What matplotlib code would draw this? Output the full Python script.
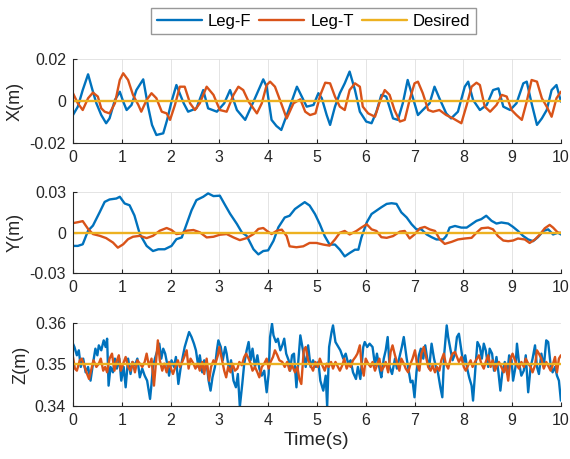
import matplotlib
matplotlib.use('Agg')
import matplotlib.pyplot as plt
from matplotlib.ticker import FuncFormatter

plt.rcParams['font.family'] = ['Liberation Sans', 'DejaVu Sans']
plt.rcParams['axes.unicode_minus'] = False

C_F = '#0072BD'
C_T = '#D95319'
C_D = '#EDB120'

# ---- X (values in mm) ----
xf_t = [0, 0.1, 0.2, 0.31, 0.4, 0.48, 0.58, 0.68, 0.75, 0.86, 0.96, 1.03, 1.1, 1.2, 1.3,
        1.44, 1.54, 1.62, 1.71, 1.85, 1.93, 2.02, 2.12, 2.2, 2.27, 2.36, 2.53, 2.67, 2.77,
        2.95, 3.1, 3.22, 3.36, 3.53, 3.7, 3.9, 3.97, 4.07, 4.17, 4.27, 4.42, 4.59, 4.69,
        4.79, 4.93, 5.03, 5.1, 5.2, 5.27, 5.37, 5.47, 5.57, 5.67, 5.78, 5.88, 6.01, 6.12,
        6.22, 6.32, 6.42, 6.56, 6.66, 6.76, 6.86, 6.97, 7.07, 7.17, 7.31, 7.41, 7.51, 7.65,
        7.75, 7.89, 8.03, 8.1, 8.2, 8.34, 8.48, 8.61, 8.72, 8.82, 8.96, 9.09, 9.23, 9.3,
        9.4, 9.51, 9.61, 9.71, 9.81, 9.91, 10.0]
xf_mm = [-6.7, -2.7, 5.2, 12.7, 5.2, -1.1, -6.7, -10.6, -8.3, 0.5, 4.4, -0.3, -4.3, -1.9, 5.2,
         10.3, -2.7, -11.4, -16.2, -15.4, -9.0, -0.3, 7.6, 2.9, -1.1, -5.1, -3.5, 5.2, -3.5,
         -5.1, -1.1, 5.2, -4.3, -9.0, -0.3, 10.3, 6.8, -9.0, -11.9, -13.8, -4.3, 6.8, 2.1,
         -2.7, -1.9, 3.7, 1.3, -6.7, -11.4, -2.7, 3.7, 8.4, 14.0, 5.2, -5.1, -9.8, -10.6,
         -5.1, 2.9, 2.1, -8.3, -9.0, -1.1, 10.0, 1.3, -6.7, -4.3, -1.1, 6.8, 1.3, -5.9,
         -8.3, -5.1, 6.8, 9.2, 0.5, -4.3, -1.9, 5.2, 6.0, -2.7, -4.3, -1.1, 8.4, 9.2,
         -1.1, -11.4, -8.3, -4.3, 5.2, 7.6, -0.3]

xt_t = [0, 0.1, 0.2, 0.31, 0.41, 0.51, 0.58, 0.65, 0.75, 0.86, 0.96, 1.03, 1.13, 1.23, 1.34,
        1.4, 1.51, 1.61, 1.71, 1.82, 1.92, 1.99, 2.09, 2.19, 2.29, 2.4, 2.5, 2.6, 2.74,
        2.88, 3.01, 3.15, 3.29, 3.39, 3.49, 3.6, 3.77, 3.87, 3.97, 4.04, 4.14, 4.28, 4.38,
        4.52, 4.66, 4.76, 4.86, 4.97, 5.07, 5.17, 5.27, 5.37, 5.47, 5.57, 5.67, 5.78, 5.88,
        5.94, 6.05, 6.19, 6.29, 6.39, 6.49, 6.59, 6.7, 6.8, 6.9, 7.0, 7.07, 7.17, 7.28,
        7.38, 7.51, 7.65, 7.79, 7.96, 8.07, 8.17, 8.27, 8.34, 8.44, 8.55, 8.68, 8.79, 8.89,
        8.99, 9.09, 9.2, 9.3, 9.4, 9.51, 9.61, 9.71, 9.81, 9.91, 10.0]
xt_mm = [3.7, -1.1, -4.3, 1.3, 4.0, 2.1, -3.5, -5.1, -5.9, -1.1, 10.0, 13.2, 10.0, 2.9, -1.9,
         -5.1, 0.5, 3.7, 1.3, -5.1, -5.9, -9.0, -1.9, 6.8, 6.8, -1.1, -4.3, -1.1, 6.8,
         2.9, -4.3, -5.1, 2.9, 6.8, 5.2, -0.3, -5.9, -1.1, 7.6, 9.2, 6.8, -1.9, -8.3,
         -1.1, 0.8, -5.1, -6.7, -5.9, 2.9, 8.7, 8.4, 2.1, -2.7, -4.3, 5.2, 8.4, 6.8,
         -2.7, -5.9, -7.5, -0.3, 5.2, 2.9, -4.3, -9.8, -9.0, 0.5, 8.4, 9.2, 3.7, -4.3,
         -5.1, -4.3, -6.7, -8.3, -10.6, -1.9, 6.8, 8.7, 7.6, -2.7, -5.1, -1.9, 2.9, 2.1,
         -4.3, -6.7, -9.0, -0.3, 10.0, 9.2, 1.3, -2.7, -7.5, 1.3, 4.4]

# ---- Y (values in mm) ----
yf_t = [0, 0.1, 0.2, 0.31, 0.41, 0.55, 0.65, 0.75, 0.89, 0.96, 1.06, 1.16, 1.26, 1.37, 1.51,
        1.64, 1.75, 1.88, 2.02, 2.12, 2.23, 2.33, 2.43, 2.53, 2.67, 2.77, 2.88, 3.01, 3.12,
        3.22, 3.36, 3.46, 3.56, 3.7, 3.8, 3.9, 4.0, 4.11, 4.21, 4.34, 4.44, 4.55, 4.65,
        4.75, 4.85, 4.96, 5.06, 5.16, 5.26, 5.37, 5.47, 5.57, 5.67, 5.78, 5.85, 5.91, 6.02,
        6.12, 6.22, 6.32, 6.43, 6.53, 6.63, 6.73, 6.84, 6.94, 7.04, 7.14, 7.25, 7.35, 7.45,
        7.59, 7.65, 7.72, 7.83, 7.96, 8.07, 8.17, 8.27, 8.37, 8.47, 8.58, 8.68, 8.78, 8.92,
        9.02, 9.12, 9.23, 9.33, 9.43, 9.53, 9.64, 9.74, 9.84, 9.94, 10.0]
yf_mm = [-9.8, -9.8, -8.6, 1.5, 5.3, 15.4, 22.9, 24.7, 25.4, 26.7, 21.7, 20.4, 12.8, -1.0, -9.8,
         -13.6, -12.3, -12.3, -9.8, -4.8, -3.5, 6.5, 16.6, 24.2, 26.7, 29.2, 27.2, 27.5, 20.4,
         14.1, 6.5, 0.3, -2.3, -12.3, -16.1, -13.6, -13.1, -6.0, 4.0, 11.3, 12.6, 17.6, 20.2,
         22.7, 20.2, 13.9, 6.3, -2.5, -8.8, -8.8, -12.6, -17.6, -15.1, -12.6, -12.6, -3.8, 7.6,
         13.9, 16.4, 18.9, 21.4, 21.9, 21.4, 15.1, 11.3, 6.3, 2.5, 2.5, -1.3, -3.3, -5.0,
         -5.0, -2.5, 3.8, 5.0, 3.8, 3.8, 6.3, 8.8, 10.1, 12.6, 8.8, 6.8, 7.6, 6.8,
         4.3, 1.3, -2.5, -5.0, -6.3, -3.3, 1.3, 2.5, -1.3, 0.0, -1.3]

yt_t = [0, 0.1, 0.2, 0.31, 0.41, 0.55, 0.68, 0.82, 0.92, 1.03, 1.13, 1.23, 1.37, 1.51, 1.64,
        1.78, 1.92, 2.02, 2.12, 2.23, 2.33, 2.47, 2.6, 2.74, 2.88, 3.01, 3.15, 3.29, 3.42,
        3.56, 3.7, 3.8, 3.9, 3.97, 4.07, 4.18, 4.28, 4.38, 4.44, 4.58, 4.72, 4.85, 4.99,
        5.13, 5.26, 5.37, 5.47, 5.57, 5.67, 5.81, 5.91, 6.02, 6.12, 6.22, 6.32, 6.43, 6.56,
        6.7, 6.8, 6.9, 7.0, 7.11, 7.21, 7.31, 7.42, 7.52, 7.62, 7.76, 7.89, 8.03, 8.17,
        8.27, 8.37, 8.51, 8.61, 8.71, 8.82, 8.92, 9.02, 9.12, 9.26, 9.36, 9.47, 9.57, 9.67,
        9.77, 9.84, 9.94, 10.0]
yt_mm = [7.1, 7.8, 8.6, 2.8, -1.0, -2.3, -4.0, -7.3, -11.1, -8.6, -4.8, -3.0, -2.3, -4.0, -2.3,
         1.5, 3.5, 2.0, -1.0, -0.5, 1.5, 2.0, 0.3, -3.5, -3.0, -1.5, -1.0, -3.5, -5.5,
         -4.0, -1.0, 2.8, 3.5, 1.5, -1.0, 1.5, 2.3, -2.5, -10.1, -10.8, -10.1, -7.6, -7.6,
         -8.8, -9.6, -5.0, 0.0, 1.3, -1.3, 1.3, 3.8, 6.3, 2.5, 1.3, -3.3, -3.8, -2.5,
         0.8, 1.3, -4.3, -1.3, 3.3, 4.3, 2.5, 1.3, -5.0, -8.3, -6.8, -5.0, -4.3, -3.8,
         0.0, 3.3, 3.8, 2.5, -2.5, -5.8, -6.3, -5.8, -4.3, -5.0, -7.6, -5.0, -1.3, 3.3,
         5.8, 3.8, 0.0, 0.0]

# ---- Z (values in m) ----
zf_t = [0.00, 0.03, 0.08, 0.12, 0.16, 0.21, 0.26, 0.31, 0.36, 0.41, 0.46, 0.50, 0.53, 0.58,
        0.63, 0.67, 0.70, 0.73, 0.77, 0.82, 0.86, 0.90, 0.95, 0.99, 1.04, 1.08, 1.13, 1.18,
        1.22, 1.27, 1.32, 1.37, 1.42, 1.47, 1.52, 1.58, 1.61, 1.64, 1.68, 1.73, 1.77, 1.81,
        1.85, 1.89, 1.93, 1.97, 2.02, 2.07, 2.11, 2.16, 2.21, 2.25, 2.29, 2.34, 2.38, 2.43,
        2.48, 2.52, 2.57, 2.60, 2.65, 2.69, 2.74, 2.78, 2.82, 2.86, 2.91, 2.95, 2.98, 3.03,
        3.07, 3.12, 3.15, 3.20, 3.24, 3.29, 3.34, 3.38, 3.42, 3.47, 3.51, 3.56, 3.60, 3.64,
        3.68, 3.73, 3.78, 3.82, 3.87, 3.92, 3.97, 4.01, 4.04, 4.08, 4.11, 4.16, 4.20, 4.25,
        4.29, 4.33, 4.37, 4.42, 4.45, 4.49, 4.53, 4.58, 4.62, 4.66, 4.72, 4.77, 4.82, 4.87,
        4.92, 4.98, 5.03, 5.07, 5.13, 5.18, 5.21, 5.25, 5.30, 5.33, 5.38, 5.44, 5.48, 5.54,
        5.59, 5.64, 5.69, 5.74, 5.80, 5.84, 5.89, 5.95, 5.98, 6.03, 6.08, 6.14, 6.19, 6.23,
        6.29, 6.32, 6.37, 6.41, 6.45, 6.49, 6.54, 6.60, 6.64, 6.70, 6.74, 6.78, 6.84, 6.88,
        6.92, 6.96, 7.00, 7.04, 7.09, 7.13, 7.18, 7.22, 7.26, 7.30, 7.35, 7.40, 7.44, 7.48,
        7.53, 7.57, 7.61, 7.66, 7.69, 7.74, 7.78, 7.83, 7.87, 7.91, 7.96, 8.00, 8.04, 8.08,
        8.12, 8.17, 8.20, 8.25, 8.29, 8.34, 8.38, 8.42, 8.46, 8.51, 8.54, 8.59, 8.63, 8.68,
        8.72, 8.76, 8.80, 8.85, 8.90, 8.94, 8.99, 9.02, 9.07, 9.10, 9.14, 9.19, 9.24, 9.28,
        9.33, 9.38, 9.42, 9.47, 9.51, 9.55, 9.60, 9.65, 9.70, 9.74, 9.79, 9.83, 9.88, 9.92,
        9.96, 10.00]
zf_m = [0.3550, 0.3542, 0.3522, 0.3534, 0.3494, 0.3514, 0.3481, 0.3494, 0.3461, 0.3502, 0.3538,
        0.3522, 0.3546, 0.3534, 0.3558, 0.3542, 0.3562, 0.3449, 0.3494, 0.3481, 0.3514, 0.3490,
        0.3514, 0.3461, 0.3494, 0.3445, 0.3514, 0.3477, 0.3506, 0.3498, 0.3514, 0.3469, 0.3490,
        0.3473, 0.3461, 0.3417, 0.3453, 0.3494, 0.3514, 0.3534, 0.3550, 0.3514, 0.3538, 0.3526,
        0.3502, 0.3473, 0.3510, 0.3494, 0.3518, 0.3453, 0.3494, 0.3518, 0.3542, 0.3562, 0.3578,
        0.3566, 0.3550, 0.3534, 0.3494, 0.3522, 0.3481, 0.3510, 0.3502, 0.3461, 0.3437, 0.3469,
        0.3494, 0.3534, 0.3558, 0.3542, 0.3510, 0.3542, 0.3526, 0.3485, 0.3510, 0.3461, 0.3445,
        0.3477, 0.3398, 0.3453, 0.3502, 0.3534, 0.3554, 0.3510, 0.3538, 0.3494, 0.3522, 0.3490,
        0.3473, 0.3485, 0.3433, 0.3477, 0.3566, 0.3598, 0.3570, 0.3554, 0.3562, 0.3534, 0.3546,
        0.3562, 0.3526, 0.3510, 0.3485, 0.3522, 0.3526, 0.3445, 0.3510, 0.3570, 0.3530, 0.3494,
        0.3546, 0.3494, 0.3510, 0.3494, 0.3506, 0.3461, 0.3437, 0.3473, 0.3398, 0.3542, 0.3578,
        0.3594, 0.3554, 0.3542, 0.3534, 0.3514, 0.3526, 0.3502, 0.3510, 0.3481, 0.3465, 0.3494,
        0.3465, 0.3542, 0.3554, 0.3542, 0.3550, 0.3542, 0.3498, 0.3526, 0.3485, 0.3469, 0.3514,
        0.3534, 0.3566, 0.3494, 0.3477, 0.3514, 0.3490, 0.3522, 0.3542, 0.3566, 0.3514, 0.3485,
        0.3457, 0.3461, 0.3421, 0.3481, 0.3522, 0.3538, 0.3514, 0.3546, 0.3514, 0.3490, 0.3550,
        0.3514, 0.3494, 0.3481, 0.3445, 0.3421, 0.3526, 0.3594, 0.3566, 0.3534, 0.3510, 0.3526,
        0.3566, 0.3574, 0.3534, 0.3502, 0.3522, 0.3490, 0.3469, 0.3449, 0.3413, 0.3494, 0.3554,
        0.3542, 0.3514, 0.3550, 0.3534, 0.3494, 0.3538, 0.3526, 0.3485, 0.3518, 0.3481, 0.3437,
        0.3481, 0.3506, 0.3477, 0.3522, 0.3510, 0.3461, 0.3494, 0.3550, 0.3506, 0.3473, 0.3485,
        0.3522, 0.3433, 0.3494, 0.3514, 0.3546, 0.3494, 0.3477, 0.3526, 0.3494, 0.3558, 0.3554,
        0.3498, 0.3481, 0.3494, 0.3473, 0.3461, 0.3413]

zt_t = [0.00, 0.04, 0.08, 0.14, 0.18, 0.24, 0.29, 0.33, 0.38, 0.42, 0.48, 0.53, 0.57, 0.62,
        0.66, 0.70, 0.75, 0.80, 0.85, 0.89, 0.94, 0.98, 1.03, 1.08, 1.13, 1.18, 1.22, 1.27,
        1.32, 1.37, 1.42, 1.47, 1.51, 1.56, 1.61, 1.66, 1.70, 1.74, 1.78, 1.83, 1.87, 1.92,
        1.97, 2.01, 2.05, 2.10, 2.15, 2.19, 2.24, 2.28, 2.33, 2.37, 2.41, 2.47, 2.51, 2.56,
        2.60, 2.65, 2.69, 2.74, 2.79, 2.83, 2.88, 2.92, 2.97, 3.00, 3.05, 3.10, 3.14, 3.18,
        3.23, 3.27, 3.32, 3.37, 3.41, 3.46, 3.51, 3.55, 3.60, 3.64, 3.68, 3.73, 3.78, 3.82,
        3.87, 3.92, 3.97, 4.01, 4.05, 4.10, 4.14, 4.19, 4.23, 4.29, 4.34, 4.39, 4.44, 4.49,
        4.55, 4.60, 4.64, 4.68, 4.73, 4.77, 4.82, 4.87, 4.92, 4.97, 5.02, 5.06, 5.11, 5.16,
        5.20, 5.24, 5.29, 5.33, 5.38, 5.43, 5.47, 5.52, 5.56, 5.61, 5.65, 5.69, 5.74, 5.79,
        5.83, 5.88, 5.92, 5.96, 6.00, 6.05, 6.10, 6.14, 6.19, 6.23, 6.28, 6.32, 6.37, 6.41,
        6.46, 6.51, 6.55, 6.60, 6.64, 6.69, 6.73, 6.78, 6.82, 6.87, 6.92, 6.96, 7.01, 7.05,
        7.10, 7.14, 7.19, 7.23, 7.28, 7.33, 7.37, 7.42, 7.46, 7.51, 7.55, 7.60, 7.64, 7.69,
        7.74, 7.78, 7.83, 7.87, 7.91, 7.96, 8.01, 8.05, 8.10, 8.15, 8.19, 8.24, 8.28, 8.32,
        8.37, 8.42, 8.46, 8.51, 8.56, 8.60, 8.65, 8.69, 8.73, 8.78, 8.83, 8.87, 8.92, 8.97,
        9.01, 9.06, 9.10, 9.14, 9.19, 9.24, 9.28, 9.33, 9.38, 9.42, 9.47, 9.51, 9.55, 9.60,
        9.65, 9.70, 9.75, 9.79, 9.83, 9.88, 9.92, 9.96, 10.00]
zt_m = [0.3518, 0.3490, 0.3485, 0.3510, 0.3514, 0.3494, 0.3477, 0.3465, 0.3490, 0.3510, 0.3494,
        0.3502, 0.3514, 0.3485, 0.3494, 0.3481, 0.3514, 0.3526, 0.3485, 0.3506, 0.3522, 0.3485,
        0.3502, 0.3518, 0.3494, 0.3485, 0.3506, 0.3481, 0.3510, 0.3502, 0.3494, 0.3506, 0.3526,
        0.3494, 0.3514, 0.3449, 0.3502, 0.3558, 0.3510, 0.3485, 0.3502, 0.3481, 0.3506, 0.3490,
        0.3477, 0.3494, 0.3510, 0.3494, 0.3506, 0.3518, 0.3534, 0.3490, 0.3514, 0.3502, 0.3490,
        0.3502, 0.3485, 0.3506, 0.3477, 0.3514, 0.3461, 0.3494, 0.3510, 0.3502, 0.3522, 0.3542,
        0.3514, 0.3485, 0.3469, 0.3494, 0.3481, 0.3502, 0.3485, 0.3490, 0.3506, 0.3498, 0.3518,
        0.3526, 0.3514, 0.3502, 0.3485, 0.3494, 0.3481, 0.3469, 0.3494, 0.3502, 0.3514, 0.3490,
        0.3506, 0.3518, 0.3534, 0.3522, 0.3510, 0.3506, 0.3494, 0.3506, 0.3485, 0.3498, 0.3481,
        0.3494, 0.3465, 0.3453, 0.3534, 0.3542, 0.3510, 0.3498, 0.3485, 0.3506, 0.3494, 0.3514,
        0.3498, 0.3485, 0.3502, 0.3494, 0.3506, 0.3490, 0.3506, 0.3494, 0.3485, 0.3498, 0.3514,
        0.3490, 0.3502, 0.3494, 0.3510, 0.3518, 0.3526, 0.3546, 0.3494, 0.3473, 0.3514, 0.3502,
        0.3494, 0.3506, 0.3485, 0.3498, 0.3514, 0.3485, 0.3494, 0.3506, 0.3481, 0.3530, 0.3546,
        0.3522, 0.3506, 0.3485, 0.3514, 0.3502, 0.3490, 0.3481, 0.3502, 0.3514, 0.3534, 0.3502,
        0.3485, 0.3526, 0.3542, 0.3522, 0.3494, 0.3485, 0.3498, 0.3481, 0.3494, 0.3485, 0.3510,
        0.3526, 0.3502, 0.3490, 0.3514, 0.3526, 0.3530, 0.3518, 0.3506, 0.3518, 0.3494, 0.3485,
        0.3498, 0.3510, 0.3494, 0.3506, 0.3514, 0.3522, 0.3502, 0.3490, 0.3506, 0.3522, 0.3494,
        0.3510, 0.3485, 0.3498, 0.3506, 0.3494, 0.3481, 0.3502, 0.3461, 0.3514, 0.3526, 0.3510,
        0.3498, 0.3490, 0.3506, 0.3494, 0.3514, 0.3502, 0.3494, 0.3481, 0.3498, 0.3534, 0.3526,
        0.3514, 0.3490, 0.3506, 0.3494, 0.3485, 0.3498, 0.3518, 0.3481, 0.3514, 0.3522]

span_t = [0, 10]
desired_xy = [0.0, 0.0]
desired_z = [0.35, 0.35]

fig = plt.figure(figsize=(5.7, 4.59), dpi=100)
rects = [(0.128, 0.6885, 0.856, 0.183),
         (0.128, 0.405, 0.856, 0.176),
         (0.128, 0.1155, 0.856, 0.181)]
axes = [fig.add_axes(r) for r in rects]

lw = 1.7
kw = dict(lw=lw, solid_joinstyle='round', solid_capstyle='round')
ax = axes[0]
ax.plot(xf_t, [v / 1000 for v in xf_mm], color=C_F, label='Leg-F', **kw)
ax.plot(xt_t, [v / 1000 for v in xt_mm], color=C_T, label='Leg-T', **kw)
ax.plot(span_t, desired_xy, color=C_D, label='Desired', **kw)
ax.set_ylim(-0.02, 0.02)
ax.set_yticks([-0.02, 0, 0.02])
ax.set_ylabel('X(m)')

ax = axes[1]
ax.plot(yf_t, [v / 1000 for v in yf_mm], color=C_F, **kw)
ax.plot(yt_t, [v / 1000 for v in yt_mm], color=C_T, **kw)
ax.plot(span_t, desired_xy, color=C_D, **kw)
ax.set_ylim(-0.03, 0.03)
ax.set_yticks([-0.03, 0, 0.03])
ax.set_ylabel('Y(m)')

ax = axes[2]
ax.plot(zf_t, zf_m, color=C_F, **kw)
ax.plot(zt_t, zt_m, color=C_T, **kw)
ax.plot(span_t, desired_z, color=C_D, **kw)
ax.set_ylim(0.34, 0.36)
ax.set_yticks([0.34, 0.35, 0.36])
ax.set_ylabel('Z(m)')
ax.set_xlabel('Time(s)', fontsize=14, labelpad=3)

fmt = FuncFormatter(lambda v, p: '0' if abs(v) < 1e-12 else ('%g' % round(v, 4)))
for ax in axes:
    ax.set_xlim(0, 10)
    ax.set_xticks(range(0, 11))
    ax.yaxis.set_major_formatter(fmt)
    ax.grid(True, color='#dfdfdf', lw=0.6)
    ax.set_axisbelow(True)
    for s in ['top', 'right']:
        ax.spines[s].set_visible(False)
    for s in ['left', 'bottom']:
        ax.spines[s].set_color('#262626')
        ax.spines[s].set_linewidth(0.8)
    ax.tick_params(direction='in', length=3, width=0.8, labelsize=11.5,
                   colors='#262626', pad=5)
    ax.yaxis.label.set_size(13)
    ax.yaxis.label.set_color('#262626')
    ax.xaxis.label.set_color('#262626')

fig.legend(handles=axes[0].get_lines(), loc='center', bbox_to_anchor=(0.55, 0.954),
           ncol=3, fontsize=12, frameon=True, fancybox=False, edgecolor='#7f7f7f',
           handlelength=2.7, handletextpad=0.35, columnspacing=0.5, borderpad=0.35)

fig.savefig('out.png', dpi=100)
